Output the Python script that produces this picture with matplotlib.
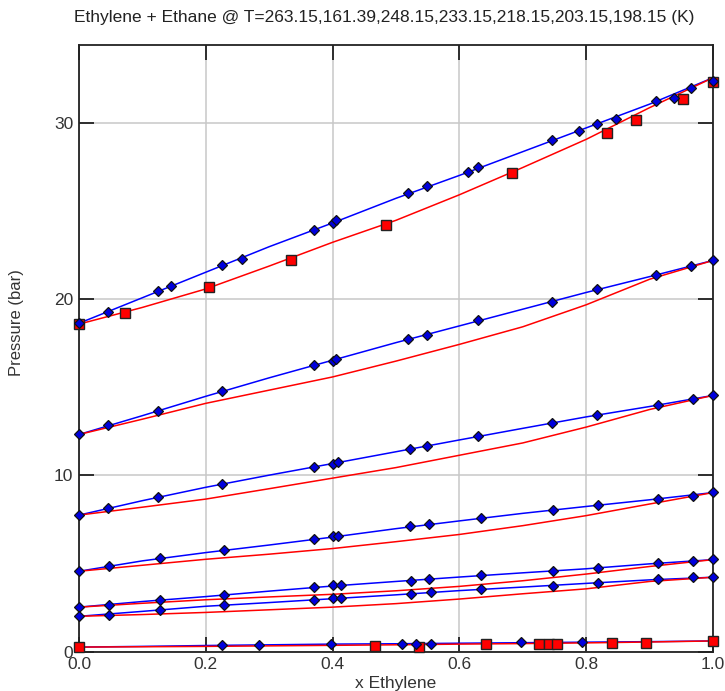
import numpy as np
import matplotlib
matplotlib.use("Agg")
import matplotlib.pyplot as plt

plt.rcParams['font.family'] = ['Liberation Sans', 'DejaVu Sans']

# model curves, read at x = 0, 0.1, ... 1.0
x_grid = [0.0, 0.1, 0.2, 0.3, 0.4, 0.5, 0.6, 0.7, 0.8, 0.9, 1.0]

bub_263 = [18.65, 20.1, 21.55, 23.0, 24.35, 25.75, 27.05, 28.4, 29.75, 31.1, 32.6]
dew_263 = [18.6, 19.55, 20.6, 21.9, 23.25, 24.5, 25.95, 27.5, 29.1, 30.9, 32.6]
bub_248 = [12.33, 13.4, 14.5, 15.55, 16.55, 17.55, 18.5, 19.45, 20.4, 21.3, 22.22]
dew_248 = [12.33, 13.2, 14.1, 14.85, 15.6, 16.5, 17.45, 18.45, 19.7, 21.15, 22.22]
bub_233 = [7.75, 8.57, 9.33, 10.02, 10.68, 11.35, 12.02, 12.68, 13.33, 13.92, 14.55]
dew_233 = [7.75, 8.2, 8.66, 9.25, 9.85, 10.45, 11.15, 11.85, 12.75, 13.75, 14.55]
bub_218 = [4.56, 5.15, 5.62, 6.05, 6.5, 6.98, 7.42, 7.85, 8.24, 8.62, 9.03]
dew_218 = [4.56, 4.9, 5.24, 5.53, 5.85, 6.24, 6.65, 7.15, 7.72, 8.38, 9.03]
bub_203 = [2.52, 2.84, 3.12, 3.43, 3.72, 3.98, 4.23, 4.47, 4.7, 4.98, 5.22]
dew_203 = [2.52, 2.74, 2.94, 3.1, 3.25, 3.45, 3.7, 4.02, 4.4, 4.83, 5.22]
bub_198 = [2.0, 2.28, 2.57, 2.78, 3.0, 3.22, 3.46, 3.66, 3.87, 4.07, 4.22]
dew_198 = [2.0, 2.1, 2.22, 2.37, 2.52, 2.72, 2.98, 3.28, 3.56, 3.98, 4.22]
bub_161 = [0.25, 0.29, 0.34, 0.38, 0.42, 0.44, 0.47, 0.50, 0.53, 0.56, 0.60]
dew_161 = [0.25, 0.27, 0.29, 0.32, 0.35, 0.38, 0.42, 0.45, 0.49, 0.54, 0.60]

# experimental liquid points (diamonds)
xl_263 = [0, 0.046, 0.124, 0.145, 0.226, 0.257, 0.370, 0.400, 0.406, 0.519, 0.549,
          0.613, 0.630, 0.746, 0.788, 0.817, 0.847, 0.910, 0.938, 0.966, 1.0]
pl_263 = [18.65, 19.28, 20.47, 20.74, 21.95, 22.29, 23.94, 24.32, 24.49, 26.06, 26.44,
          27.25, 27.52, 29.07, 29.55, 29.98, 30.26, 31.28, 31.44, 32.01, 32.44]
xl_248 = [0, 0.046, 0.124, 0.226, 0.371, 0.400, 0.406, 0.519, 0.549, 0.630, 0.746, 0.817, 0.910, 0.966, 1.0]
pl_248 = [12.33, 12.88, 13.69, 14.79, 16.27, 16.53, 16.62, 17.73, 17.99, 18.84, 19.85, 20.57, 21.40, 21.93, 22.22]
xl_233 = [0, 0.046, 0.124, 0.226, 0.371, 0.400, 0.408, 0.522, 0.549, 0.630, 0.746, 0.817, 0.913, 0.969, 1.0]
pl_233 = [7.75, 8.13, 8.77, 9.49, 10.51, 10.66, 10.78, 11.49, 11.70, 12.22, 12.99, 13.43, 13.98, 14.36, 14.55]
xl_218 = [0, 0.048, 0.127, 0.229, 0.371, 0.400, 0.409, 0.522, 0.552, 0.634, 0.747, 0.819, 0.913, 0.969, 1.0]
pl_218 = [4.56, 4.85, 5.30, 5.74, 6.38, 6.55, 6.55, 7.12, 7.22, 7.58, 8.03, 8.31, 8.67, 8.85, 9.05]
xl_203 = [0, 0.048, 0.127, 0.229, 0.371, 0.401, 0.413, 0.524, 0.552, 0.634, 0.747, 0.819, 0.913, 0.969, 1.0]
pl_203 = [2.55, 2.67, 2.94, 3.22, 3.65, 3.75, 3.75, 4.03, 4.11, 4.32, 4.56, 4.75, 5.04, 5.13, 5.23]
xl_198 = [0, 0.048, 0.127, 0.229, 0.371, 0.401, 0.413, 0.524, 0.555, 0.634, 0.747, 0.819, 0.913, 0.969, 1.0]
pl_198 = [2.0, 2.10, 2.37, 2.65, 2.90, 3.03, 3.03, 3.28, 3.37, 3.56, 3.73, 3.92, 4.11, 4.22, 4.22]
xl_161 = [0.226, 0.284, 0.397, 0.509, 0.532, 0.555, 0.697, 0.794]
pl_161 = [0.38, 0.38, 0.43, 0.43, 0.43, 0.43, 0.53, 0.53]

# experimental vapour points (squares)
yv_263 = [0, 0.073, 0.205, 0.334, 0.484, 0.683, 0.833, 0.879, 0.952, 1.0]
pv_263 = [18.6, 19.24, 20.70, 22.25, 24.26, 27.18, 29.47, 30.21, 31.40, 32.35]
yv_161 = [0, 0.467, 0.536, 0.642, 0.726, 0.741, 0.754, 0.840, 0.894, 1.0]
pv_161 = [0.25, 0.30, 0.28, 0.43, 0.40, 0.40, 0.40, 0.49, 0.49, 0.59]

title = 'Ethylene + Ethane @ T=263.15,161.39,248.15,233.15,218.15,203.15,198.15 (K)'

curves = [(bub_263, dew_263), (bub_161, dew_161), (bub_248, dew_248), (bub_233, dew_233),
          (bub_218, dew_218), (bub_203, dew_203), (bub_198, dew_198)]
liquid = [(xl_263, pl_263), (xl_161, pl_161), (xl_248, pl_248), (xl_233, pl_233),
          (xl_218, pl_218), (xl_203, pl_203), (xl_198, pl_198)]
vapour = [(yv_263, pv_263), (yv_161, pv_161)]

fig = plt.figure(figsize=(7.25, 6.91), dpi=100)
ax = fig.add_axes([79/725, 1 - 651.5/691, 634/725, 606.5/691])

for bub, dew in curves:
    ax.plot(x_grid, bub, color='#0000ff', lw=1.1, zorder=2)
    ax.plot(x_grid, dew, color='#ff0000', lw=1.1, zorder=2)

for xs, ps in vapour:
    ax.plot(xs, ps, 's', ms=7.5, mfc='#ff0000', mec='#222222', mew=1.0, zorder=3, clip_on=False)
for xs, ps in liquid:
    ax.plot(xs, ps, 'D', ms=5.3, mfc='#0000dd', mec='#111111', mew=0.9, zorder=4, clip_on=False)

ax.set_xlim(0, 1)
ax.set_ylim(0, 34.46)
ax.set_xticks([0.0, 0.2, 0.4, 0.6, 0.8, 1.0])
ax.set_xticklabels(['0.0', '0.2', '0.4', '0.6', '0.8', '1.0'])
ax.set_yticks([0, 10, 20, 30])
ax.grid(True, color='#c8c8c8', lw=1.1, zorder=0)
ax.set_axisbelow(True)
ax.tick_params(direction='in', length=11, width=1.1, top=True, right=True,
               labelsize=12.5, labelcolor='#333333', pad=4)
for s in ax.spines.values():
    s.set_linewidth(1.3)
    s.set_color('#222222')

ax.set_xlabel('x Ethylene', fontsize=12.5, color='#333333')
ax.xaxis.set_label_coords(0.5, -0.040)
ax.set_ylabel('Pressure (bar)', fontsize=12, color='#333333')
ax.yaxis.set_label_coords(-0.087, 0.543)

fig.text(384/725, 1 - 17.5/691, title, ha='center', va='center', fontsize=12.5, color='#222222')

fig.savefig('out.png', dpi=100)
